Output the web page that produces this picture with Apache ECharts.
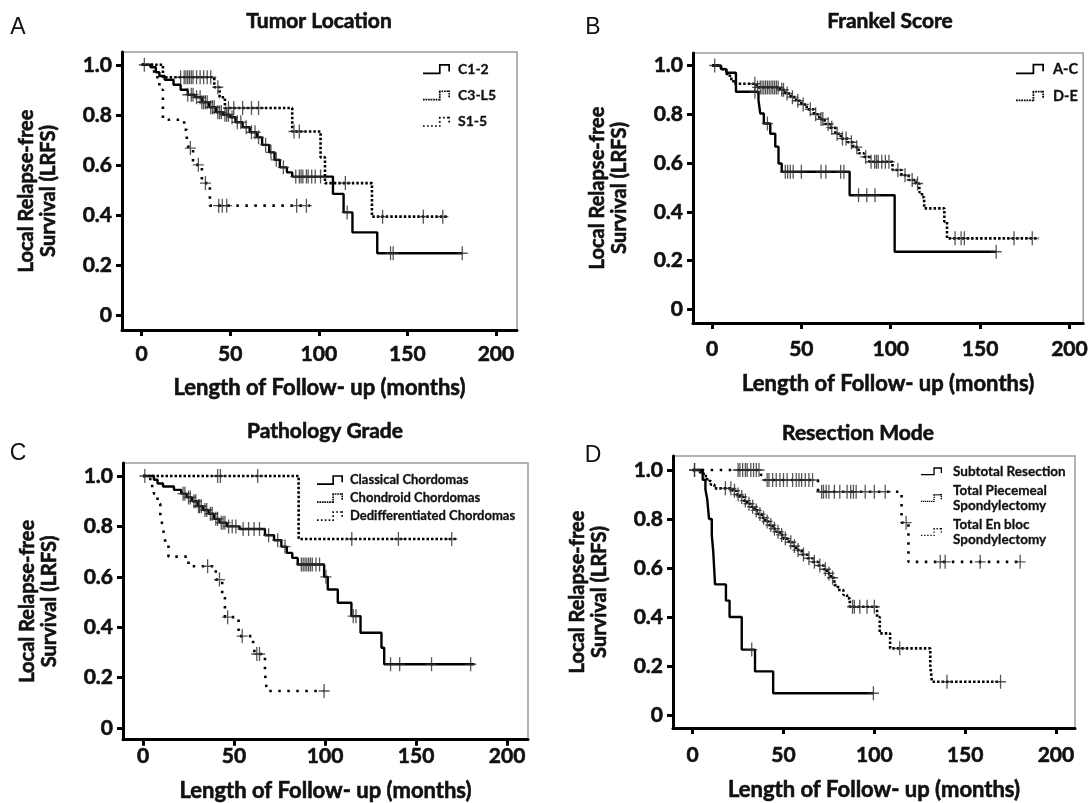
<!DOCTYPE html>
<html><head><meta charset="utf-8">
<script src="https://cdn.jsdelivr.net/npm/echarts@6/dist/echarts.min.js"></script>
<style>html,body{margin:0;padding:0;background:#fff}#c{width:1091px;height:803px}</style>
</head><body><div id="c"></div>
<script>
// ---------------- DATA ----------------
const xTicks = [0, 50, 100, 150, 200];
const yTicks = [0, 0.2, 0.4, 0.6, 0.8, 1.0];
const xTitle = 'Length of Follow- up (months)';
const yTitle = 'Local Relapse-free\nSurvival (LRFS)';
const panelTitles = ['Tumor Location', 'Frankel Score', 'Pathology Grade', 'Resection Mode'];
const panelLetters = ['A', 'B', 'C', 'D'];

// Panel A: Tumor Location (event times, survival after event, end of follow-up, censor times)
const A_c12_t = [5, 8, 10, 13, 18, 22, 26, 30, 34, 38, 42, 46, 50, 53, 57, 61, 65, 68, 72, 75, 78, 82, 85, 108, 114, 119, 133];
const A_c12_s = [0.99, 0.97, 0.955, 0.94, 0.92, 0.90, 0.88, 0.87, 0.85, 0.83, 0.81, 0.80, 0.79, 0.77, 0.75, 0.73, 0.71, 0.68, 0.65, 0.62, 0.59, 0.57, 0.553, 0.484, 0.41, 0.33, 0.247];
const A_c12_end = 181;
const A_c12_cens = [1.5, 26, 28, 29, 31, 33, 34, 35, 36, 37, 39, 40, 41, 43, 44, 45, 47, 48, 49, 51, 54, 56, 59, 62, 64, 66, 70, 73, 76, 80, 87, 89, 90, 91, 93, 94, 96, 98, 101, 116, 140.5, 142, 181];
const A_c35_t = [12, 41, 44, 47, 85, 101, 103.5, 130];
const A_c35_s = [0.95, 0.91, 0.87, 0.827, 0.733, 0.63, 0.527, 0.393];
const A_c35_end = 173;
const A_c35_cens = [22, 24, 25, 26, 27, 28, 29, 31, 33, 35, 37, 39, 43, 49, 52, 57, 62, 66, 86, 89, 115, 136, 159, 170];
const A_s15_t = [7, 10, 12, 24, 25.5, 26.5, 29, 34, 38.5];
const A_s15_s = [0.95, 0.9, 0.78, 0.74, 0.70, 0.667, 0.6, 0.527, 0.437];
const A_s15_end = 95;
const A_s15_cens = [27.5, 32, 36, 43.5, 45.5, 48, 87.5, 93];

// Panel B: Frankel Score
const B_ac_t = [5, 8, 13.4, 26, 27, 29, 32.6, 35.4, 37.2, 39, 77, 102.2];
const B_ac_s = [0.985, 0.97, 0.892, 0.858, 0.803, 0.762, 0.72, 0.667, 0.598, 0.564, 0.468, 0.236];
const B_ac_end = 159;
const B_ac_cens = [24, 31, 41, 42.3, 43.8, 45.4, 50, 61, 63.7, 72, 73.8, 82, 86.6, 91.2, 159];
const B_de_t = [5, 8, 10, 12, 25, 38, 41, 44, 47, 50, 53, 57, 60, 63, 66, 69, 72, 76, 79, 82, 85, 88, 101, 106, 110, 114, 116, 117.5, 118.7, 130, 131.5];
const B_de_s = [0.985, 0.965, 0.945, 0.925, 0.91, 0.9, 0.885, 0.87, 0.855, 0.84, 0.82, 0.80, 0.78, 0.76, 0.745, 0.72, 0.70, 0.685, 0.665, 0.64, 0.625, 0.605, 0.571, 0.55, 0.53, 0.516, 0.48, 0.46, 0.414, 0.359, 0.291];
const B_de_end = 183;
const B_de_cens = [1.5, 24, 25.5, 27, 28, 29, 30, 31, 32, 33, 34, 35, 36, 37, 39, 40, 42, 45, 48, 51, 55, 58, 61, 62, 65, 67, 70, 73, 75, 78, 81, 86, 89, 91, 92, 93, 95, 97, 99, 104, 108, 112, 115, 136, 139.4, 141.2, 169, 179.2];

// Panel C: Pathology Grade
const C_cl_t = [6, 8, 11, 17, 21, 24, 27, 30, 33, 36, 39, 42, 46, 53, 67, 72, 76, 79, 82, 85, 99.5, 101.5, 107, 114.5, 119.5, 131, 132.5];
const C_cl_s = [0.985, 0.97, 0.958, 0.945, 0.93, 0.915, 0.9, 0.88, 0.865, 0.85, 0.83, 0.815, 0.80, 0.79, 0.765, 0.745, 0.72, 0.695, 0.675, 0.649, 0.60, 0.55, 0.497, 0.444, 0.378, 0.319, 0.253];
const C_cl_end = 182;
const C_cl_cens = [1, 22, 23, 25, 26, 28, 29, 30.5, 31, 32, 34, 35, 37, 38, 40, 41, 43, 44, 45, 47, 49, 51, 55, 58, 61, 64, 69, 74, 78, 87, 88, 89, 90, 91, 92, 93, 95, 97, 100.5, 115.5, 117, 136, 141, 158.5, 180];
const C_ch_t = [85.5];
const C_ch_s = [0.75];
const C_ch_end = 172;
const C_ch_cens = [41, 42.5, 63, 114.7, 140.3, 169.6];
const C_de_t = [4, 6, 8, 9.5, 10.5, 11.5, 12.5, 14, 25, 40, 43.5, 45, 52.5, 60.5, 61.5, 67, 68];
const C_de_s = [0.96, 0.93, 0.89, 0.85, 0.81, 0.77, 0.73, 0.68, 0.642, 0.589, 0.52, 0.44, 0.365, 0.33, 0.294, 0.22, 0.147];
const C_de_end = 99.5;
const C_de_cens = [35.5, 42, 46.5, 54.5, 62.5, 64, 99.5];

// Panel D: Resection Mode
const D_st_t = [5.5, 7, 8, 9, 10.5, 11.3, 12.3, 18.3, 20.3, 27, 34.3, 44.3];
const D_st_s = [0.96, 0.92, 0.88, 0.80, 0.735, 0.667, 0.533, 0.467, 0.40, 0.267, 0.178, 0.089];
const D_st_end = 99.5;
const D_st_cens = [1, 32.5, 99.5];
const D_pm_t = [4, 6, 8, 10, 12, 22, 24, 26, 28, 30, 32, 34, 36, 38, 40, 42, 44, 46, 48, 50, 53, 55, 57, 60, 63, 66, 69, 72, 74, 76, 78, 80, 83, 85, 86.5, 101.5, 103, 108.7, 130.8, 131.7];
const D_pm_s = [0.99, 0.975, 0.955, 0.94, 0.925, 0.915, 0.9, 0.89, 0.875, 0.862, 0.85, 0.835, 0.82, 0.805, 0.79, 0.775, 0.76, 0.748, 0.735, 0.72, 0.705, 0.69, 0.673, 0.655, 0.64, 0.625, 0.61, 0.595, 0.578, 0.56, 0.53, 0.51, 0.49, 0.476, 0.442, 0.40, 0.333, 0.272, 0.204, 0.136];
const D_pm_end = 169.5;
const D_pm_cens = [18, 21, 23, 25, 27, 29, 31, 33, 35, 37, 39, 41, 43, 45, 47, 49, 51, 54, 56, 58, 61, 64, 67, 70, 73, 75, 77, 88, 89, 92, 96, 100, 114, 140, 169.5];
const D_eb_t = [37.5, 39.5, 69, 115, 118.8];
const D_eb_s = [0.98, 0.959, 0.911, 0.785, 0.625];
const D_eb_end = 181;
const D_eb_cens = [1, 25, 26, 27.5, 29, 30, 32, 33.5, 35, 36.5, 41, 42, 44, 46, 48, 50, 52, 55, 57, 58.5, 60, 62, 64, 66, 71, 72, 73.5, 75, 78, 81, 85, 87, 88.5, 90, 95, 100, 106, 117.5, 136.3, 139, 158.3, 180.3];

// ---------------- HELPERS ----------------
function kmLine(t, s, end) {
  const d = [[0, 1]];
  for (let i = 0; i < t.length; i++) d.push([t[i], s[i]]);
  d.push([end, s[s.length - 1]]);
  return d;
}
function kmAt(t, s, x) { let v = 1; for (let i = 0; i < t.length; i++) if (t[i] <= x) v = s[i]; return v; }
function kmCens(t, s, c) { return c.map(x => [x, kmAt(t, s, x)]); }

const DENSE = [2.5, 2];
const SPARSE = [2.5, 6.5];
const plusSym = 'path://M0,6.3H12V7.7H0Z M5.3,0H6.7V14H5.3Z';

function curve(name, gi, t, s, end, cens, dash) {
  return [
    { name: name, type: 'line', xAxisIndex: gi, yAxisIndex: gi, step: 'end', symbol: 'none',
      color: '#000', data: kmLine(t, s, end),
      lineStyle: { color: '#000', width: dash ? 2.6 : 2.4, type: dash || 'solid', cap: 'butt' },
      z: 3, silent: true },
    { name: name + ' (censored)', type: 'scatter', xAxisIndex: gi, yAxisIndex: gi,
      symbol: plusSym, symbolSize: [11, 14], data: kmCens(t, s, cens),
      itemStyle: { color: '#2a2a2a' }, z: 4, silent: true }
  ];
}

function iconPath(dots, spacing) {
  const pts = [[0, 10], [17, 10], [17, 1], [27, 1], [27, 7]];
  const w = 1.8;
  let p = '';
  const rect = (x1, y1, x2, y2) => {
    const x = Math.min(x1, x2) - w / 2, y = Math.min(y1, y2) - w / 2;
    const W = Math.abs(x2 - x1) + w, H = Math.abs(y2 - y1) + w;
    p += 'M' + x.toFixed(2) + ',' + y.toFixed(2) + 'h' + W.toFixed(2) + 'v' + H.toFixed(2) + 'h' + (-W).toFixed(2) + 'Z';
  };
  for (let i = 0; i < pts.length - 1; i++) {
    const [x1, y1] = pts[i], [x2, y2] = pts[i + 1];
    const L = Math.hypot(x2 - x1, y2 - y1);
    if (!dots) { rect(x1, y1, x2, y2); continue; }
    const ux = (x2 - x1) / L, uy = (y2 - y1) / L;
    for (let a = 0; a <= L; a += spacing) rect(x1 + ux * a, y1 + uy * a, x1 + ux * a, y1 + uy * a);
  }
  return 'path://' + p;
}
const ICON_SOLID = iconPath(false);
const ICON_DENSE = iconPath(true, 2.7);
const ICON_SPARSE = iconPath(true, 4.3);

// ---------------- LAYOUT ----------------
const FONT = 'Lato, "Open Sans", sans-serif';
const INK = '#111';
const heavy = { textBorderColor: INK, textBorderWidth: 0.6 };
const grids = [
  { left: 122, top: 52, width: 395, height: 278 },
  { left: 693, top: 53, width: 396, height: 270 },
  { left: 123, top: 463, width: 405, height: 278 },
  { left: 673, top: 456, width: 402, height: 272 }
];
const xRanges = [[-11.1, 211.9], [-10.64, 207.7], [-10.99, 211.5], [-10.85, 210.5]];
const yRanges = [[-0.060, 1.051], [-0.056, 1.051], [-0.046, 1.0515], [-0.053, 1.057]];
const xLabelMargin = [14, 16, 6, 17];
const xNameGap = [47, 50, 40, 51];

const tickStyle = Object.assign({ color: INK, fontFamily: FONT, fontWeight: 'bold', fontSize: 21 }, heavy);

const xAxes = grids.map((g, i) => ({
  type: 'value', gridIndex: i, min: xRanges[i][0], max: xRanges[i][1],
  axisLine: { show: true, onZero: false, lineStyle: { color: '#000', width: 3 } },
  axisTick: { show: true, customValues: xTicks, length: 6, lineStyle: { color: '#000', width: 3 } },
  axisLabel: Object.assign({ customValues: xTicks, margin: xLabelMargin[i] }, tickStyle),
  splitLine: { show: false },
  name: xTitle, nameLocation: 'middle', nameGap: xNameGap[i],
  nameTextStyle: Object.assign({ color: INK, fontFamily: FONT, fontWeight: 'bold', fontSize: 22 }, heavy)
}));
const yAxes = grids.map((g, i) => ({
  type: 'value', gridIndex: i, min: yRanges[i][0], max: yRanges[i][1],
  axisLine: { show: true, onZero: false, lineStyle: { color: '#000', width: 3 } },
  axisTick: { show: true, customValues: yTicks, length: 6, lineStyle: { color: '#000', width: 3 } },
  axisLabel: Object.assign({ customValues: yTicks, margin: 10,
    formatter: v => (Math.abs(v) < 1e-9 ? '0' : v.toFixed(1)) }, tickStyle),
  splitLine: { show: false },
  name: yTitle, nameLocation: 'middle', nameRotate: 90, nameGap: 62,
  nameTextStyle: Object.assign({ color: INK, fontFamily: FONT, fontWeight: 'bold', fontSize: 20, lineHeight: 22 }, heavy)
}));

const series = [].concat(
  curve('C1-2', 0, A_c12_t, A_c12_s, A_c12_end, A_c12_cens, null),
  curve('C3-L5', 0, A_c35_t, A_c35_s, A_c35_end, A_c35_cens, DENSE),
  curve('S1-5', 0, A_s15_t, A_s15_s, A_s15_end, A_s15_cens, SPARSE),
  curve('A-C', 1, B_ac_t, B_ac_s, B_ac_end, B_ac_cens, null),
  curve('D-E', 1, B_de_t, B_de_s, B_de_end, B_de_cens, DENSE),
  curve('Classical Chordomas', 2, C_cl_t, C_cl_s, C_cl_end, C_cl_cens, null),
  curve('Chondroid Chordomas', 2, C_ch_t, C_ch_s, C_ch_end, C_ch_cens, DENSE),
  curve('Dedifferentiated Chordomas', 2, C_de_t, C_de_s, C_de_end, C_de_cens, SPARSE),
  curve('Subtotal Resection', 3, D_st_t, D_st_s, D_st_end, D_st_cens, null),
  curve('Total Piecemeal Spondylectomy', 3, D_pm_t, D_pm_s, D_pm_end, D_pm_cens, DENSE),
  curve('Total En bloc Spondylectomy', 3, D_eb_t, D_eb_s, D_eb_end, D_eb_cens, SPARSE)
);

function legend(left, top, names, icons, fs, iw, ih, gap, padL, lh) {
  return {
    orient: 'vertical', left: left, top: top, selectedMode: false, padding: 0,
    itemWidth: iw, itemHeight: ih, itemGap: gap,
    itemStyle: { borderWidth: 0 },
    data: names.map((n, i) => ({ name: n, icon: icons[i] })),
    formatter: n => n.replace('Total Piecemeal ', 'Total Piecemeal\n').replace('Total En bloc ', 'Total En bloc\n'),
    textStyle: { color: INK, fontFamily: FONT, fontWeight: 'bold', fontSize: fs, lineHeight: lh, padding: [0, 0, 0, padL],
      textBorderColor: INK, textBorderWidth: 0.3 }
  };
}

const titleItems = [];
const titlePos = [[319, 11], [890, 11], [325, 421], [858, 423]];
panelTitles.forEach((t, i) => titleItems.push({
  text: t, left: titlePos[i][0], top: titlePos[i][1], textAlign: 'center', padding: 0,
  textStyle: Object.assign({ color: INK, fontFamily: FONT, fontWeight: 'bold', fontSize: 21 }, heavy)
}));
const letterPos = [[18, 16], [593, 16], [18, 442], [593, 444]];
panelLetters.forEach((t, i) => titleItems.push({
  text: t, left: letterPos[i][0], top: letterPos[i][1], textAlign: 'center', padding: 0,
  textStyle: { color: INK, fontFamily: '"Liberation Sans", Arial, sans-serif', fontWeight: 'normal', fontSize: 23 }
}));

const option = {
  animation: false,
  backgroundColor: '#fff',
  title: titleItems,
  grid: grids.map(g => Object.assign({ show: true, borderColor: '#9a9a9a', borderWidth: 1.5, backgroundColor: 'transparent', containLabel: false }, g)),
  xAxis: xAxes,
  yAxis: yAxes,
  legend: [
    legend(423, 62, ['C1-2', 'C3-L5', 'S1-5'], [ICON_SOLID, ICON_DENSE, ICON_SPARSE], 14, 27, 11, 12, 3, 14),
    legend(1016, 61, ['A-C', 'D-E'], [ICON_SOLID, ICON_DENSE], 14.5, 28, 11, 11, 4, 16),
    legend(317, 473, ['Classical Chordomas', 'Chondroid Chordomas', 'Dedifferentiated Chordomas'], [ICON_SOLID, ICON_DENSE, ICON_SPARSE], 13, 26, 10, 4, 2, 14),
    legend(921, 464, ['Subtotal Resection', 'Total Piecemeal Spondylectomy', 'Total En bloc Spondylectomy'], [ICON_SOLID, ICON_DENSE, ICON_SPARSE], 13.5, 21, 11, 5, 6, 14.5)
  ],
  series: series
};

const chart = echarts.init(document.getElementById('c'), null, { renderer: 'canvas' });
chart.setOption(option);
</script>
</body></html>
